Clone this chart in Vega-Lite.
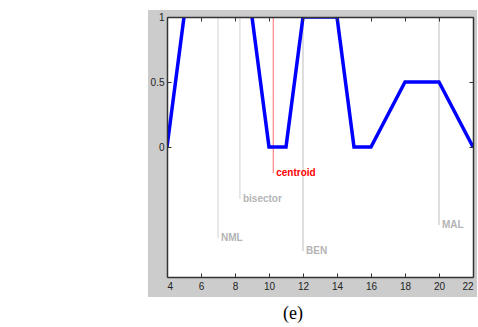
{
  "$schema": "https://vega.github.io/schema/vega-lite/v6.json",
  "width": 306,
  "height": 260,
  "autosize": {"type": "none"},
  "padding": {"left": 167, "top": 17, "right": 5, "bottom": 50},
  "background": "white",
  "config": {"view": {"stroke": null}, "font": "Liberation Sans"},
  "title": {"text": "(e)", "orient": "bottom", "font": "Liberation Serif", "fontSize": 18, "fontWeight": "normal", "color": "#000", "offset": 8, "dx": -27},
  "datasets": {
    "bg": [{"x1": 2.88, "x2": 22.24, "y1": -1.154, "y2": 1.054}],
    "plot": [{"x1": 4, "x2": 22, "y1": -1, "y2": 1}],
    "mf": [
      {"x": 4, "y": 0}, {"x": 5, "y": 1}, {"x": 7, "y": null}, {"x": 9, "y": 1},
      {"x": 10, "y": 0}, {"x": 11, "y": 0}, {"x": 12, "y": 1}, {"x": 14, "y": 1},
      {"x": 15, "y": 0}, {"x": 16, "y": 0}, {"x": 18, "y": 0.5}, {"x": 20, "y": 0.5},
      {"x": 22, "y": 0}
    ],
    "marks": [
      {"x": 7, "top": 1, "end": -0.7, "label": "NML", "kind": "a"},
      {"x": 8.29, "top": 1, "end": -0.4, "label": "bisector", "kind": "a"},
      {"x": 12, "top": 1, "end": -0.8, "label": "BEN", "kind": "b"},
      {"x": 20, "top": 1, "end": -0.6, "label": "MAL", "kind": "b"},
      {"x": 10.25, "top": 1, "end": -0.2, "label": "centroid", "kind": "c"}
    ]
  },
  "layer": [
    {
      "data": {"name": "bg"},
      "mark": {"type": "rect", "color": "#cccccc", "clip": false},
      "encoding": {
        "x": {"field": "x1", "type": "quantitative", "scale": {"domain": [4, 22], "nice": false, "zero": false}, "axis": null},
        "x2": {"field": "x2"},
        "y": {"field": "y1", "type": "quantitative", "scale": {"domain": [-1, 1], "nice": false, "zero": false}, "axis": null},
        "y2": {"field": "y2"}
      }
    },
    {
      "data": {"name": "plot"},
      "mark": {"type": "rect", "color": "#ffffff", "clip": false},
      "encoding": {
        "x": {"field": "x1", "type": "quantitative", "axis": {"orient": "bottom", "values": [4,6,8,10,12,14,16,18,20,22], "tickSize": -4, "tickColor": "#333", "domainColor": "#333", "domainWidth": 1.5, "labelPadding": 8, "labelFontSize": 10, "labelColor": "#222", "title": null, "grid": false, "zindex": 1}},
        "x2": {"field": "x2"},
        "y": {"field": "y1", "type": "quantitative", "axis": {"orient": "left", "values": [0, 0.5, 1], "format": "~g", "tickSize": -4, "tickColor": "#333", "domainColor": "#333", "domainWidth": 1.5, "labelPadding": 7, "labelFontSize": 10, "labelColor": "#222", "title": null, "grid": false, "zindex": 1}},
        "y2": {"field": "y2"}
      }
    },
    {
      "data": {"name": "plot"},
      "mark": {"type": "rect", "opacity": 0, "clip": false},
      "encoding": {
        "x": {"field": "x1", "type": "quantitative", "axis": {"orient": "top", "values": [4,6,8,10,12,14,16,18,20,22], "tickSize": -4, "tickColor": "#333", "domainColor": "#333", "domainWidth": 1.5, "labels": false, "title": null, "grid": false, "zindex": 1}},
        "x2": {"field": "x2"},
        "y": {"field": "y1", "type": "quantitative", "axis": {"orient": "right", "values": [0, 0.5, 1], "tickSize": -4, "tickColor": "#333", "domainColor": "#333", "domainWidth": 1.5, "labels": false, "title": null, "grid": false, "zindex": 1}},
        "y2": {"field": "y2"}
      }
    },
    {
      "data": {"name": "marks"},
      "mark": {"type": "rule", "strokeWidth": 1},
      "encoding": {
        "x": {"field": "x", "type": "quantitative", "axis": null},
        "y": {"field": "top", "type": "quantitative", "axis": null},
        "y2": {"field": "end"},
        "color": {"field": "kind", "type": "nominal", "scale": {"domain": ["a", "b", "c"], "range": ["#d2d2d2", "#bdbdbd", "#ff6a6a"]}, "legend": null}
      }
    },
    {
      "data": {"name": "marks"},
      "mark": {"type": "text", "align": "left", "baseline": "middle", "dx": 3, "fontSize": 10, "fontWeight": "bold"},
      "encoding": {
        "x": {"field": "x", "type": "quantitative", "axis": null},
        "y": {"field": "end", "type": "quantitative", "axis": null},
        "text": {"field": "label"},
        "color": {"field": "kind", "type": "nominal", "scale": {"domain": ["a", "b", "c"], "range": ["#b4b4b4", "#b4b4b4", "#ff0000"]}, "legend": null}
      }
    },
    {
      "data": {"name": "mf"},
      "mark": {"type": "line", "color": "#0000ff", "strokeWidth": 3.5, "clip": true},
      "encoding": {
        "x": {"field": "x", "type": "quantitative", "axis": null},
        "y": {"field": "y", "type": "quantitative", "axis": null}
      }
    }
  ],
  "resolve": {"scale": {"color": "independent"}}
}
